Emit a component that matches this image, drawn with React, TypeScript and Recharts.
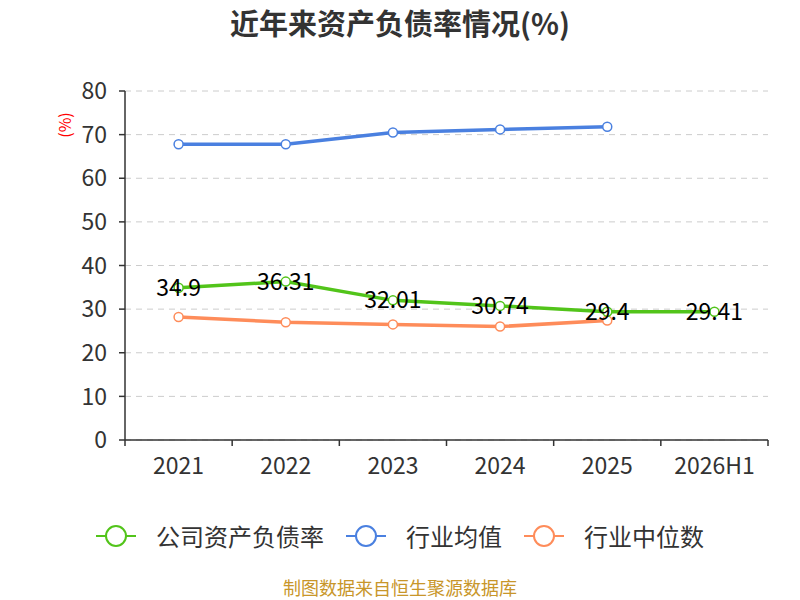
import { LineChart, Line, XAxis, YAxis, CartesianGrid, LabelList } from "recharts";

const categories = ["2021", "2022", "2023", "2024", "2025", "2026H1"];
const companyRatio = [34.9, 36.31, 32.01, 30.74, 29.4, 29.41];
const industryAvg: (number | null)[] = [67.8, 67.8, 70.5, 71.2, 71.8, null];
const industryMedian: (number | null)[] = [28.2, 27.0, 26.5, 26.0, 27.4, null];
const yTicks = [0, 10, 20, 30, 40, 50, 60, 70, 80];

const data = categories.map((name, i) => ({
  name,
  company: companyRatio[i],
  avg: industryAvg[i],
  median: industryMedian[i],
}));

const FONT = '"Noto Sans CJK SC", "Noto Sans", sans-serif';
const GREEN = "#52c41a";
const BLUE = "#4a80e0";
const ORANGE = "#fe8c5a";

const series = [
  { key: "company", label: "公司资产负债率", color: GREEN },
  { key: "avg", label: "行业均值", color: BLUE },
  { key: "median", label: "行业中位数", color: ORANGE },
];

// x ticks sit on category boundaries, like the original
function XTick(props: any) {
  const { x, y, payload, index, visibleTicksCount } = props;
  const half = payload.offset ?? 0;
  return (
    <g>
      <line x1={x - half} x2={x - half} y1={y - 8} y2={y - 2} stroke="#333" strokeWidth={1.5} />
      {index === visibleTicksCount - 1 && (
        <line x1={x + half} x2={x + half} y1={y - 8} y2={y - 2} stroke="#333" strokeWidth={1.5} />
      )}
      <text x={x} y={y + 26} textAnchor="middle" fill="#333" fontSize={23} fontFamily={FONT}>
        {payload.value}
      </text>
    </g>
  );
}

function ValueLabel(props: any) {
  const { x, y, value } = props;
  return (
    <text x={x} y={y + 8} textAnchor="middle" fill="#000" fontSize={23} fontFamily={FONT}>
      {value}
    </text>
  );
}

function LegendIcon({ color }: { color: string }) {
  return (
    <svg width={40} height={26} style={{ marginRight: 20 }}>
      <line x1={0} x2={40} y1={13} y2={13} stroke={color} strokeWidth={2} />
      <circle cx={20} cy={13} r={10} fill="#fff" stroke={color} strokeWidth={2} />
    </svg>
  );
}

export default function App() {
  return (
    <div style={{ position: "absolute", left: 0, top: 0, width: 800, height: 600, background: "#fff", fontFamily: FONT }}>
      <div style={{ position: "absolute", top: 2, width: 800, textAlign: "center", fontSize: 29, lineHeight: "40px", fontWeight: "bold", color: "#333" }}>
        近年来资产负债率情况(%)
      </div>
      <div style={{ position: "absolute", left: 51, top: 113, fontSize: 16, color: "red", transform: "rotate(-90deg)", transformOrigin: "center" }}>
        (%)
      </div>
      <LineChart width={800} height={600} data={data} margin={{ top: 91, right: 32, left: 65, bottom: 130 }}>
        <CartesianGrid vertical={false} stroke="#ccc" strokeDasharray="6 5" />
        <XAxis
          dataKey="name"
          scale="band"
          stroke="#333"
          strokeWidth={1.5}
          tickLine={false}
          tick={<XTick />}
          height={30}
          interval={0}
        />
        <YAxis
          domain={[0, 80]}
          ticks={yTicks}
          width={60}
          stroke="#333"
          strokeWidth={1.5}
          tickSize={6}
          tickMargin={12}
          tick={{ fontSize: 23, fill: "#333", fontFamily: FONT }}
        />
        <Line dataKey="avg" stroke={BLUE} strokeWidth={3.5} isAnimationActive={false}
          dot={{ r: 4.5, fill: "#fff", stroke: BLUE, strokeWidth: 1.5 }} />
        <Line dataKey="median" stroke={ORANGE} strokeWidth={3.5} isAnimationActive={false}
          dot={{ r: 4.5, fill: "#fff", stroke: ORANGE, strokeWidth: 1.5 }} />
        <Line dataKey="company" stroke={GREEN} strokeWidth={3.5} isAnimationActive={false}
          dot={{ r: 4.5, fill: "#fff", stroke: GREEN, strokeWidth: 1.5 }}>
          <LabelList dataKey="company" content={<ValueLabel />} />
        </Line>
      </LineChart>
      <div style={{ position: "absolute", top: 518, left: 0, width: 800, display: "flex", justifyContent: "center", alignItems: "center" }}>
        {series.map((s) => (
          <div key={s.key} style={{ display: "flex", alignItems: "center", margin: "0 11px" }}>
            <LegendIcon color={s.color} />
            <span style={{ fontSize: 24, color: "#333" }}>{s.label}</span>
          </div>
        ))}
      </div>
      <div style={{ position: "absolute", top: 578, width: 800, textAlign: "center", fontSize: 18, lineHeight: "18px", color: "#c8962a" }}>
        制图数据来自恒生聚源数据库
      </div>
    </div>
  );
}
